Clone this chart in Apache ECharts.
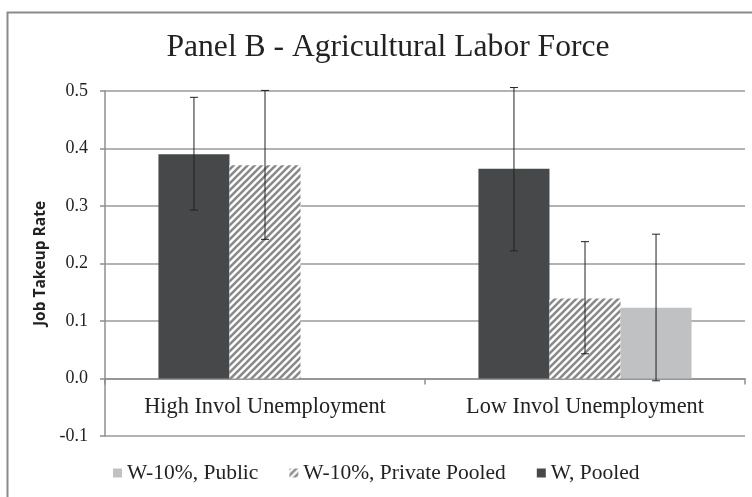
<!DOCTYPE html>
<html>
<head>
<meta charset="utf-8">
<script src="https://cdn.jsdelivr.net/npm/echarts@6/dist/echarts.min.js"></script>
<style>
  html, body { margin: 0; padding: 0; background: #fff; }
  #main { width: 752px; height: 497px; }
</style>
</head>
<body>
<div id="main"></div>
<script>
// categories and values
var categories = ['High Invol Unemployment', 'Low Invol Unemployment'];
var seriesNames = ['W, Pooled', 'W-10%, Private Pooled', 'W-10%, Public'];
var wPooled = [0.390, 0.365];
var privatePooled = [0.371, 0.139];
var publicVals = [null, 0.123];
// 95% intervals (low / high)
var wPooledLow = [0.293, 0.222];
var wPooledHigh = [0.489, 0.506];
var privateLow = [0.242, 0.043];
var privateHigh = [0.501, 0.238];
var publicLow = [null, -0.004];
var publicHigh = [null, 0.251];
var yTicks = [-0.1, 0.0, 0.1, 0.2, 0.3, 0.4, 0.5];

var serif = '"Liberation Serif", "Times New Roman", serif';
var gap = 0.334;

function hatch() {
	var c = document.createElement('canvas');
	c.width = 7; c.height = 7;
	var ctx = c.getContext('2d');
	ctx.fillStyle = '#fff';
	ctx.fillRect(0, 0, 7, 7);
	ctx.strokeStyle = '#8a8a8a';
	ctx.lineWidth = 2.6;
	ctx.beginPath();
	ctx.moveTo(-1, 8); ctx.lineTo(8, -1);
	ctx.moveTo(-4, 4); ctx.lineTo(4, -4);
	ctx.moveTo(3, 11); ctx.lineTo(11, 3);
	ctx.stroke();
	return c;
}

function errData(low, high) {
	var out = [];
	for (var i = 0; i < low.length; i++) {
		if (low[i] != null) out.push([i, low[i], high[i]]);
	}
	return out;
}

function errSeries(k, low, high) {
	return {
		type: 'custom',
		name: 'err' + k,
		z: 10,
		silent: true,
		data: errData(low, high),
		encode: { x: 0, y: [1, 2] },
		renderItem: function (params, api) {
			var i = api.value(0);
			var lo = api.coord([i, api.value(1)]);
			var hi = api.coord([i, api.value(2)]);
			var band = api.size([1, 0])[0];
			var bw = band * (1 - gap) / 3;
			var x = lo[0] + (k - 1) * bw;
			var cap = 4;
			var st = { stroke: '#222', lineWidth: 1 };
			return {
				type: 'group',
				children: [
					{ type: 'line', shape: { x1: x, y1: hi[1], x2: x, y2: lo[1] }, style: st },
					{ type: 'line', shape: { x1: x - cap, y1: hi[1], x2: x + cap, y2: hi[1] }, style: st },
					{ type: 'line', shape: { x1: x - cap, y1: lo[1], x2: x + cap, y2: lo[1] }, style: st }
				]
			};
		}
	};
}

window.onload = function () {
	var myChart = echarts.init(document.getElementById('main'));
	var option = {
		animation: false,
		backgroundColor: '#fff',
		title: {
			text: 'Panel B - Agricultural Labor Force',
			left: 383,
			top: 27,
			textAlign: 'center',
			textStyle: { fontFamily: serif, fontSize: 31.6, fontWeight: 'normal', color: '#222' }
		},
		graphic: [{
			type: 'rect',
			shape: { x: 7.5, y: 12.5, width: 800, height: 600 },
			style: { fill: 'none', stroke: '#8a8a8a', lineWidth: 2 },
			silent: true
		}],
		legend: {
			data: ['W-10%, Public', 'W-10%, Private Pooled', 'W, Pooled'],
			left: 108,
			top: 457,
			icon: 'rect',
			itemWidth: 9,
			itemHeight: 9,
			itemGap: 31,
			textStyle: { fontFamily: serif, fontSize: 21.5, color: '#222' }
		},
		grid: { left: 105, right: 7, top: 91, bottom: 61 },
		xAxis: {
			type: 'category',
			data: categories,
			axisLine: { onZero: true, lineStyle: { color: '#8f8f8f', width: 1.5 } },
			axisTick: { show: true, length: 6, lineStyle: { color: '#8f8f8f', width: 1.5 } },
			axisLabel: { fontFamily: serif, fontSize: 22.3, color: '#222', margin: -40 },
			splitLine: { show: false }
		},
		yAxis: {
			type: 'value',
			min: yTicks[0],
			max: yTicks[yTicks.length - 1],
			interval: 0.1,
			name: 'Job Takeup Rate',
			nameLocation: 'middle',
			nameGap: 54,
			nameTextStyle: { fontFamily: '"Open Sans", "DejaVu Sans", sans-serif', fontSize: 15.5, fontWeight: 'bold', color: '#222' },
			axisLine: { show: true, lineStyle: { color: '#8f8f8f', width: 1.5 } },
			axisTick: { show: true, length: 5, lineStyle: { color: '#8f8f8f', width: 1.5 } },
			axisLabel: {
				fontFamily: serif, fontSize: 18, color: '#222', margin: 17,
				formatter: function (v) { return v.toFixed(1); }
			},
			splitLine: { lineStyle: { color: '#9a9a9a', width: 1.5 } }
		},
		series: [
			{
				name: seriesNames[0], type: 'bar', data: wPooled,
				barGap: '0%', barCategoryGap: (gap * 100) + '%',
				itemStyle: { color: '#474849' }
			},
			{
				name: seriesNames[1], type: 'bar', data: privatePooled,
				itemStyle: { color: { image: hatch(), repeat: 'repeat' } }
			},
			{
				name: seriesNames[2], type: 'bar', data: publicVals,
				itemStyle: { color: '#c0c1c3' }
			},
			errSeries(0, wPooledLow, wPooledHigh),
			errSeries(1, privateLow, privateHigh),
			errSeries(2, publicLow, publicHigh)
		]
	};
	myChart.setOption(option);
};
</script>
</body>
</html>
